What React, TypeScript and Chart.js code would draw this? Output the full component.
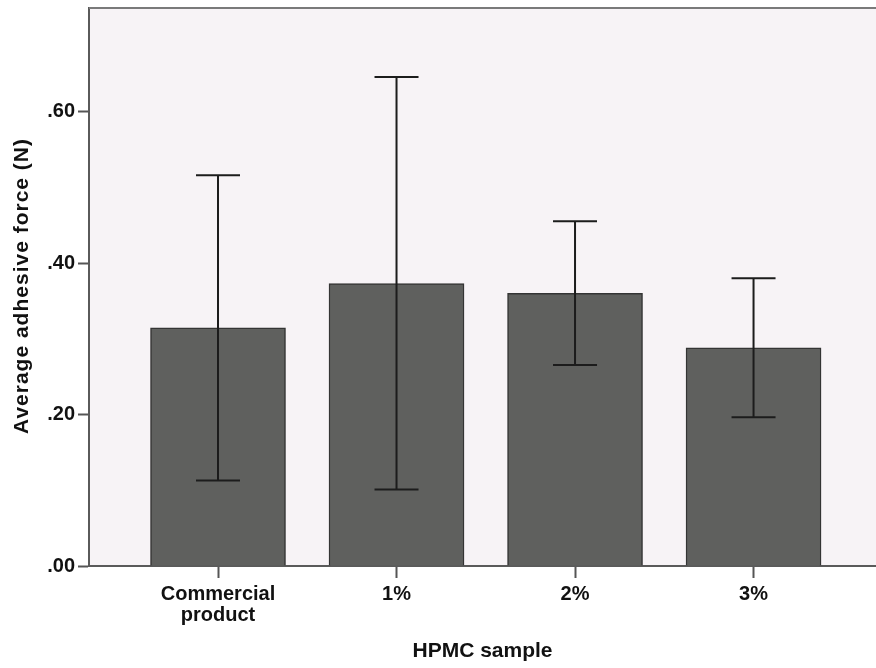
import React, { useEffect, useRef } from "react";
import { Chart, registerables } from "chart.js";

Chart.register(...registerables);

// Sample groups and their label lines under the x axis
const categories = ["Commercial product", "1%", "2%", "3%"];
const categoryLabelLines = [["Commercial", "product"], ["1%"], ["2%"], ["3%"]];

// Mean adhesive force (N) per sample
const meanForce = [0.3145, 0.373, 0.36, 0.288];
// Error bar ends (N)
const errorUpper = [0.516, 0.646, 0.4555, 0.38];
const errorLower = [0.113, 0.101, 0.2655, 0.1965];

// Y axis ticks and range
const yTickValues = [0, 0.2, 0.4, 0.6];
const yMax = 0.737;

const yTitle = "Average adhesive force (N)";
const xTitle = "HPMC sample";

const FONT = "'Liberation Sans', Arial, sans-serif";

const plotFrame = {
  id: "plotFrame",
  beforeDraw(chart: any) {
    const { ctx, chartArea } = chart;
    ctx.save();
    ctx.fillStyle = "#f7f3f6";
    ctx.fillRect(chartArea.left, chartArea.top, chartArea.right - chartArea.left, chartArea.bottom - chartArea.top);
    ctx.restore();
  },
  afterDraw(chart: any) {
    const { ctx, chartArea } = chart;
    ctx.save();
    ctx.strokeStyle = "#7a7a7a";
    ctx.lineWidth = 2;
    ctx.beginPath();
    ctx.moveTo(chartArea.left, chartArea.top);
    ctx.lineTo(chartArea.right, chartArea.top);
    ctx.stroke();

    // vertical axis title, slightly tracked
    ctx.fillStyle = "#111";
    ctx.font = `bold 21px ${FONT}`;
    (ctx as any).letterSpacing = "1px";
    ctx.textAlign = "center";
    ctx.textBaseline = "middle";
    ctx.translate(22.5, (chartArea.top + chartArea.bottom) / 2 - 1);
    ctx.rotate(-Math.PI / 2);
    ctx.fillText(yTitle, 0, 0);
    ctx.restore();
  },
};

const errorBars = {
  id: "errorBars",
  afterDatasetsDraw(chart: any) {
    const { ctx } = chart;
    const xs = chart.scales.x;
    const ys = chart.scales.y;
    ctx.save();
    ctx.strokeStyle = "#1c1c1c";
    ctx.lineWidth = 2;
    const cap = 22;
    categories.forEach((_, i) => {
      const x = xs.getPixelForValue(i);
      const yTop = ys.getPixelForValue(errorUpper[i]);
      const yBot = ys.getPixelForValue(errorLower[i]);
      ctx.beginPath();
      ctx.moveTo(x, yTop);
      ctx.lineTo(x, yBot);
      ctx.moveTo(x - cap, yTop);
      ctx.lineTo(x + cap, yTop);
      ctx.moveTo(x - cap, yBot);
      ctx.lineTo(x + cap, yBot);
      ctx.stroke();
    });
    ctx.restore();
  },
};

export default function App() {
  const canvasRef = useRef<HTMLCanvasElement | null>(null);

  useEffect(() => {
    if (!canvasRef.current) return;
    const chart = new Chart(canvasRef.current, {
      type: "bar",
      data: {
        datasets: [
          {
            data: meanForce.map((v, i) => ({ x: i, y: v })),
            backgroundColor: "#5f605e",
            borderColor: "#343434",
            borderWidth: 1.5,
            barThickness: 135,
          },
        ],
      },
      options: {
        animation: false,
        responsive: false,
        devicePixelRatio: 1,
        layout: { padding: { top: 8, right: 0, left: 0, bottom: 0 } },
        plugins: { legend: { display: false }, tooltip: { enabled: false } },
        scales: {
          x: {
            type: "linear",
            min: -0.7227,
            max: 3.686,
            offset: false,
            afterBuildTicks(scale: any) {
              scale.ticks = categories.map((_, i) => ({ value: i }));
            },
            afterFit(scale: any) {
              scale.height = 102;
              scale.paddingLeft = 0;
              scale.paddingRight = 0;
            },
            grid: {
              offset: false,
              drawOnChartArea: false,
              drawTicks: true,
              tickLength: 12,
              tickColor: "#555",
              tickWidth: 2,
            },
            border: { display: true, color: "#5a5a5a", width: 2 },
            ticks: {
              autoSkip: false,
              maxRotation: 0,
              padding: 6,
              color: "#111",
              font: { family: FONT, size: 20, weight: "bold", lineHeight: 1.05 },
              callback: (value: any) => categoryLabelLines[Math.round(Number(value))] ?? "",
            },
            title: {
              display: true,
              text: xTitle,
              color: "#111",
              font: { family: FONT, size: 21, weight: "bold", lineHeight: 1.2 },
              padding: { top: 4, bottom: 4 },
            },
          },
          y: {
            type: "linear",
            min: 0,
            max: yMax,
            afterBuildTicks(scale: any) {
              scale.ticks = yTickValues.map((value) => ({ value }));
            },
            afterFit(scale: any) {
              scale.width = 89;
              scale.paddingTop = 0;
              scale.paddingBottom = 0;
            },
            grid: {
              drawOnChartArea: false,
              drawTicks: true,
              tickLength: 11,
              tickColor: "#555",
              tickWidth: 2,
            },
            border: { display: true, color: "#5a5a5a", width: 2 },
            ticks: {
              padding: 3,
              color: "#111",
              font: { family: FONT, size: 20, weight: "bold" },
              callback: (value: any) => Number(value).toFixed(2).replace(/^0/, ""),
            },
            title: { display: false },
          },
        },
      },
      plugins: [plotFrame, errorBars],
    } as any);
    return () => chart.destroy();
  }, []);

  return (
    <div style={{ position: "absolute", left: 0, top: 0, width: 876, height: 668, background: "#fff" }}>
      <canvas ref={canvasRef} width={876} height={668} style={{ display: "block" }} />
    </div>
  );
}
